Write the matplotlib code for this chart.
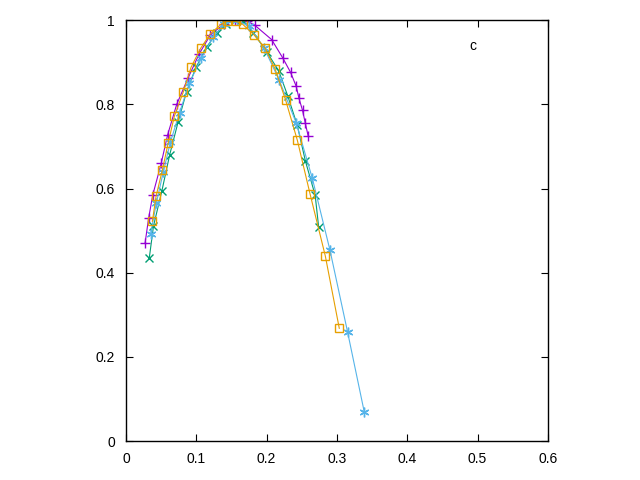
import matplotlib
matplotlib.use("Agg")
import matplotlib.pyplot as plt

plt.rcParams['font.family'] = ['Liberation Sans', 'DejaVu Sans']

# series 1 (purple, +)
x1 = [0.027, 0.032, 0.038, 0.050, 0.059, 0.072, 0.088, 0.104, 0.120, 0.140,
      0.155, 0.172, 0.183, 0.207, 0.223, 0.234, 0.242, 0.246, 0.251, 0.255, 0.259]
y1 = [0.470, 0.529, 0.585, 0.660, 0.727, 0.800, 0.862, 0.920, 0.965, 0.992,
      1.000, 0.998, 0.988, 0.954, 0.910, 0.876, 0.843, 0.814, 0.786, 0.755, 0.725]

# series 2 (green, x)
x2 = [0.033, 0.039, 0.051, 0.062, 0.074, 0.086, 0.0995, 0.115, 0.129, 0.142,
      0.155, 0.166, 0.181, 0.200, 0.217, 0.230, 0.2436, 0.255, 0.269, 0.274]
y2 = [0.435, 0.511, 0.595, 0.680, 0.758, 0.830, 0.888, 0.937, 0.970, 0.992,
      1.000, 0.999, 0.970, 0.925, 0.880, 0.820, 0.750, 0.666, 0.584, 0.508]

# series 3 (cyan, *)
x3 = [0.035, 0.043, 0.053, 0.063, 0.076, 0.090, 0.107, 0.124, 0.140, 0.158,
      0.175, 0.196, 0.218, 0.242, 0.265, 0.290, 0.315, 0.339]
y3 = [0.493, 0.565, 0.640, 0.710, 0.780, 0.850, 0.910, 0.960, 0.990, 1.000,
      0.985, 0.935, 0.857, 0.756, 0.624, 0.454, 0.260, 0.068]

# series 4 (orange, open square)
x4 = [0.0374, 0.0427, 0.0516, 0.060, 0.0687, 0.0815, 0.0924, 0.106, 0.120, 0.135,
      0.143, 0.157, 0.166, 0.182, 0.198, 0.212, 0.227, 0.2436, 0.2616, 0.2834, 0.3033]
y4 = [0.522, 0.582, 0.644, 0.709, 0.772, 0.830, 0.888, 0.933, 0.968, 0.990,
      0.997, 0.997, 0.990, 0.965, 0.933, 0.884, 0.810, 0.715, 0.588, 0.440, 0.268]

fig = plt.figure(figsize=(6.4, 4.8), dpi=100)
ax = fig.add_axes([0.197, 0.081, 0.659, 0.877])

ax.plot(x1, y1, color='#9400D3', marker='+', ms=7, mew=1, lw=0.8)
ax.plot(x2, y2, color='#009E73', marker='x', ms=6, mew=1, lw=0.8)
ax.plot(x3, y3, color='#56B4E9', marker=(6, 2, 0), ms=7, mew=1, lw=0.8)
ax.plot(x4, y4, color='#E69F00', marker='s', ms=6, mew=1, lw=0.8, mfc='none')

ax.text(0.489, 0.929, 'c', fontsize=10)

ax.set_xlim(0, 0.6)
ax.set_ylim(0, 1)
ax.set_xticks([0, 0.1, 0.2, 0.3, 0.4, 0.5, 0.6])
ax.set_xticklabels(['0', '0.1', '0.2', '0.3', '0.4', '0.5', '0.6'])
ax.set_yticks([0, 0.2, 0.4, 0.6, 0.8, 1])
ax.set_yticklabels(['0', '0.2', '0.4', '0.6', '0.8', '1'])
ax.tick_params(direction='in', top=True, right=True, length=5, labelsize=10, pad=8)
for s in ax.spines.values():
    s.set_linewidth(1)

fig.savefig('out.png', dpi=100)
